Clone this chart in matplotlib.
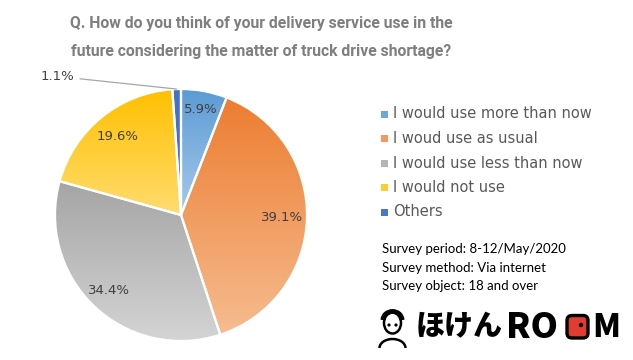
import numpy as np
import matplotlib
matplotlib.use("Agg")
import matplotlib.pyplot as plt
from matplotlib.colors import LinearSegmentedColormap
from matplotlib.patches import Rectangle, FancyBboxPatch, Circle, Ellipse, Arc

categories = ["I would use more than now", "I woud use as usual",
              "I would use less than now", "I would not use", "Others"]
values = [5.9, 39.1, 34.4, 19.6, 1.1]
labels = ["5.9%", "39.1%", "34.4%", "19.6%", "1.1%"]
top_colors = ["#5B9BD5", "#ED7D31", "#A5A5A5", "#FFC000", "#4472C4"]
bottom_colors = ["#A8CAEB", "#F6BC90", "#D4D4D4", "#FFDC70", "#4472C4"]
legend_colors = ["#6FA7DC", "#F09A62", "#B4B4B4", "#FFCC33", "#4A78C8"]
title_lines = ["Q. How do you think of your delivery service use in the",
               "future considering the matter of truck drive shortage?"]
survey = ["Survey period: 8-12/May/2020", "Survey method: Via internet",
          "Survey object: 18 and over"]
logo_kana = "ほけん"
logo_latin = "RO"
logo_last = "M"

W, H = 633, 360
fig = plt.figure(figsize=(W / 100, H / 100), dpi=100)
fig.patch.set_facecolor("white")

bg = fig.add_axes([0, 0, 1, 1])
bg.set_xlim(0, W)
bg.set_ylim(H, 0)
bg.axis("off")

cx, cy, R = 181, 215, 126
pax = fig.add_axes([(cx - R) / W, (H - cy - R) / H, 2 * R / W, 2 * R / H])
pax.set_xlim(-1, 1)
pax.set_ylim(-1, 1)
pax.axis("off")

wedges, _ = pax.pie(values, startangle=90, counterclock=False, radius=1.0,
                    wedgeprops=dict(edgecolor="white", linewidth=1.6, facecolor="none"))
for w, c0, c1 in zip(wedges, top_colors, bottom_colors):
    path = w.get_path().transformed(w.get_patch_transform())
    ext = path.get_extents()
    cmap = LinearSegmentedColormap.from_list("g", [c0, c1])
    grad = np.linspace(0, 1, 256).reshape(-1, 1)
    im = pax.imshow(grad, cmap=cmap, extent=[ext.x0, ext.x1, ext.y0, ext.y1],
                    aspect="auto", origin="upper", zorder=1, interpolation="bilinear")
    im.set_clip_path(w)
    w.set_zorder(2)
pax.set_xlim(-1, 1)
pax.set_ylim(-1, 1)

total = sum(values)
cum = 0
dists = [0.85, 0.80, 0.83, 0.80]
for i, (v, lab) in enumerate(zip(values, labels)):
    mid = 90 - (cum + v / 2) / total * 360
    cum += v
    if i < 4:
        r = dists[i]
        pax.text(r * np.cos(np.radians(mid)), r * np.sin(np.radians(mid)), lab,
                 ha="center", va="center", fontsize=9.5, color="#404040",
                 family="DejaVu Sans", zorder=5)
    else:
        ax_ = np.cos(np.radians(mid))
        ay_ = np.sin(np.radians(mid))
        pax.annotate(lab, xy=(ax_, ay_), xytext=(-0.98, 1.10), ha="center", va="center",
                     fontsize=9.5, color="#404040", family="DejaVu Sans",
                     arrowprops=dict(arrowstyle="-", color="#A6A6A6", lw=0.9,
                                     shrinkA=2, shrinkB=0),
                     annotation_clip=False, zorder=5)

renderer = fig.canvas.get_renderer()


def fit_width(t, target, base):
    wpx = t.get_window_extent(renderer).width
    t.set_fontsize(base * target / wpx)


# title
for i, line in enumerate(title_lines):
    t = bg.text(261, 23.5 + i * 28, line, ha="center", va="center", fontsize=11,
                fontweight="bold", color="#7F7F7F", family="Roboto")
    fit_width(t, 382, 11)

# legend
for i, (cat, col) in enumerate(zip(categories, legend_colors)):
    y = 114 + i * 24.5
    bg.add_patch(Rectangle((381, y - 3.5), 7, 7, facecolor=col, edgecolor="none"))
    bg.text(393, y, cat, ha="left", va="center", fontsize=10.5, color="#595959",
            family="DejaVu Sans")

# survey info
for i, s in enumerate(survey):
    bg.text(382, 249 + i * 18.5, s, ha="left", va="center", fontsize=9.5, color="black",
            family="Lato")

# logo
fam = ["Noto Sans CJK JP", "DejaVu Sans"]
t1 = bg.text(416, 326, logo_kana, ha="left", va="center", fontsize=20,
             fontweight="heavy", color="black", family=fam)
fit_width(t1, 87, 20)
t2 = bg.text(506, 327, logo_latin, ha="left", va="center", fontsize=24,
             fontweight="heavy", color="black", family=fam)
fit_width(t2, 52, 24)
bg.add_patch(FancyBboxPatch((567, 315.5), 21, 22.5, boxstyle="round,pad=0,rounding_size=5",
                            facecolor="#E03C31", edgecolor="black", lw=2.4))
bg.add_patch(Circle((581, 325), 1.5, color="black"))
t3 = bg.text(592, 327, logo_last, ha="left", va="center", fontsize=24,
             fontweight="heavy", color="black", family=fam)
fit_width(t3, 28, 24)
# person icon
bg.add_patch(Ellipse((392.5, 323), 17, 21, facecolor="white", edgecolor="black", lw=1.8))
bg.add_patch(Arc((392.5, 320), 19, 17, theta1=180, theta2=360, color="black", lw=3.5))
bg.add_patch(Arc((392.5, 348), 26, 18, theta1=180, theta2=360, color="black", lw=1.8))
bg.add_patch(Circle((389, 325), 0.9, color="black"))
bg.add_patch(Circle((396, 325), 0.9, color="black"))

fig.savefig("out.png", dpi=100, facecolor="white")
